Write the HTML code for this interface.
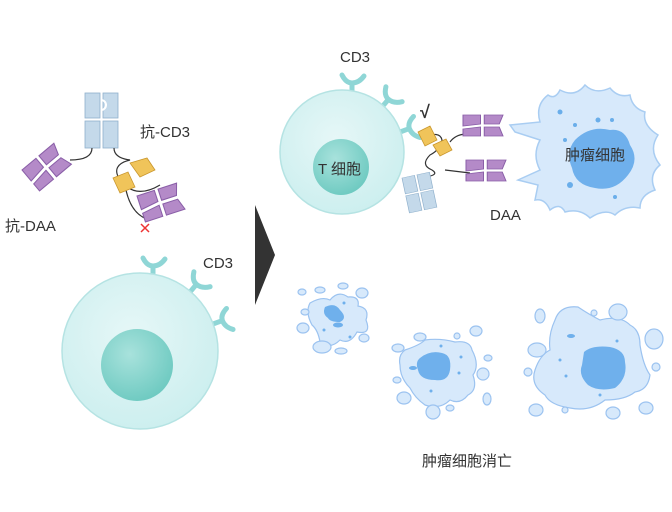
<!DOCTYPE html>
<html><head><meta charset="utf-8"><style>
body{margin:0;background:#fff}
svg{display:block}
text{font-family:"Liberation Sans","Noto Sans CJK SC",sans-serif;fill:#333}
</style></head><body>
<svg width="672" height="512" viewBox="0 0 672 512" xmlns="http://www.w3.org/2000/svg">
<defs>
<radialGradient id="cell" cx="0.45" cy="0.4" r="0.6"><stop offset="0" stop-color="#e6f7f7"/><stop offset="1" stop-color="#cdefef"/></radialGradient>
<radialGradient id="nuc" cx="0.4" cy="0.35" r="0.7"><stop offset="0" stop-color="#a8e2dc"/><stop offset="1" stop-color="#6cc9c0"/></radialGradient>
<g id="rec" stroke="#8fd6d6" stroke-width="5" stroke-linecap="round" fill="none"><path d="M0,4 L0,-10 M0,-10 Q-6,-10 -10,-18 M0,-10 Q7,-10 12,-17"/></g>
<g id="fab" fill="#b48ac8" stroke="#8a5fa8" stroke-width="0.8">
<path d="M0,0 L14,0 L14,9 L0,11Z"/><path d="M17,0 L32,0 L29,9 L17,9Z"/>
<path d="M0,14 L14,12 L14,21 L0,21Z"/><path d="M17,12 L29,12 L32,21 L17,21Z"/></g>
<g id="blk" fill="#c4d9ea" stroke="#8fb0cc" stroke-width="0.8">
<rect x="0" y="0" width="15" height="25"/><rect x="18" y="0" width="15" height="25"/>
<rect x="0" y="28" width="15" height="27"/><rect x="18" y="28" width="15" height="27"/></g>
</defs>

<!-- left antibody -->
<use href="#blk" x="85" y="93"/>
<path d="M101,100 a5,5 0 1 1 0,10" fill="none" stroke="#fff" stroke-width="2"/>
<path d="M92,148 Q92,160 70,160" fill="none" stroke="#333" stroke-width="1.2"/>
<path d="M114,148 Q114,158 130,160 Q110,165 120,180 Q135,200 160,185" fill="none" stroke="#333" stroke-width="1.2"/>
<path d="M125,185 Q130,215 150,220" fill="none" stroke="#333" stroke-width="1.2"/>
<g transform="translate(22,170) rotate(-40)"><use href="#fab" transform="scale(1.3)"/></g>
<path d="M113,178 L128,172 L135,187 L120,193Z" fill="#f0c45a" stroke="#c9962c" stroke-width="0.8"/>
<path d="M130,163 L147,158 L155,170 L140,177Z" fill="#f0c45a" stroke="#c9962c" stroke-width="0.8"/>
<g transform="translate(137,196) rotate(-18)"><use href="#fab" transform="scale(1.3)"/></g>
<path d="M141,224 L149,232 M149,224 L141,232" stroke="#e33" stroke-width="1.5"/>
<text x="140" y="137" font-size="15">抗-CD3</text>
<text x="5" y="231" font-size="15">抗-DAA</text>

<!-- left T cell -->
<use href="#rec" transform="translate(153,276)"/>
<use href="#rec" transform="translate(190,292) rotate(40)"/>
<use href="#rec" transform="translate(213,324) rotate(70)"/>
<circle cx="140" cy="351" r="78" fill="url(#cell)" stroke="#b5e3e3" stroke-width="1.5"/>
<circle cx="137" cy="365" r="36" fill="url(#nuc)"/>
<text x="203" y="268" font-size="15">CD3</text>

<!-- arrow -->
<path d="M255,205 L275,255 L255,305Z" fill="#333"/>

<!-- right T cell -->
<use href="#rec" transform="translate(352,93)"/>
<use href="#rec" transform="translate(382,107) rotate(40)"/>
<use href="#rec" transform="translate(400,132) rotate(70)"/>
<circle cx="342" cy="152" r="62" fill="url(#cell)" stroke="#b5e3e3" stroke-width="1.5"/>
<circle cx="341" cy="167" r="28" fill="url(#nuc)"/>
<text x="318" y="174" font-size="15">T 细胞</text>
<text x="340" y="62" font-size="15">CD3</text>
<text x="420" y="118" font-size="18" font-weight="bold" fill="#222">√</text>

<!-- right antibody -->
<path d="M422,138 Q440,130 442,140 Q440,150 430,155 Q420,165 432,170 Q440,175 425,177" fill="none" stroke="#333" stroke-width="1.2"/>
<path d="M450,142 Q455,135 465,134 M445,170 L470,173" fill="none" stroke="#333" stroke-width="1.2"/>
<path d="M418,132 L430,126 L437,140 L425,146Z" fill="#f0c45a" stroke="#c9962c" stroke-width="0.8"/>
<path d="M433,145 L446,139 L452,150 L440,156Z" fill="#f0c45a" stroke="#c9962c" stroke-width="0.8"/>
<g transform="translate(402,178) rotate(-12)"><use href="#blk" transform="scale(0.85 0.65)"/></g>
<use href="#fab" transform="translate(463,115) scale(1.25 1)"/>
<use href="#fab" transform="translate(466,160) scale(1.25 1)"/>

<!-- main tumor -->
<path d="M510,125 L540,122 Q535,105 548,95 Q555,100 560,90 Q575,98 585,85 Q595,95 610,88 Q618,98 630,95 Q632,108 645,112 Q642,125 658,135 Q648,150 660,165 Q648,175 655,190 Q640,195 640,208 Q625,205 615,215 Q605,208 590,218 Q580,208 565,212 Q560,202 550,210 Q545,198 535,200 L538,185 L518,180 L540,170 Q532,155 540,140 L515,132Z" fill="#d7e9fb" stroke="#a9cdf2" stroke-width="1.5"/>
<path d="M575,140 Q590,125 610,130 Q625,128 630,145 Q640,160 628,175 Q615,192 595,188 Q575,185 572,168 Q565,152 575,140Z" fill="#6fb0ec"/>
<g fill="#6aaeea"><circle cx="560" cy="112" r="2.5"/><circle cx="575" cy="125" r="2"/><circle cx="565" cy="140" r="2"/><circle cx="612" cy="120" r="2"/><circle cx="583" cy="160" r="2"/><circle cx="570" cy="185" r="3"/><circle cx="598" cy="120" r="2.5"/><circle cx="615" cy="197" r="2"/></g>
<text x="565" y="160" font-size="15">肿瘤细胞</text>
<text x="490" y="220" font-size="15">DAA</text>

<!-- fragments -->
<g fill="#d7e9fb" stroke="#9cc3f0" stroke-width="1.2">
<path d="M310,303 Q322,296 330,300 Q338,290 348,297 Q360,296 358,306 Q370,308 366,320 Q372,335 357,332 Q350,345 340,340 Q330,350 320,342 Q318,330 312,325 Q305,312 310,303Z"/>
<ellipse cx="302" cy="292" rx="4" ry="3"/><ellipse cx="320" cy="290" rx="5" ry="3"/><ellipse cx="343" cy="286" rx="5" ry="3"/><ellipse cx="362" cy="293" rx="6" ry="5"/><ellipse cx="305" cy="312" rx="4" ry="3"/><ellipse cx="303" cy="328" rx="6" ry="5"/><ellipse cx="322" cy="347" rx="9" ry="6"/><ellipse cx="341" cy="351" rx="6" ry="3"/><ellipse cx="364" cy="338" rx="5" ry="4"/>
<path d="M405,350 Q420,345 425,340 Q440,338 455,342 Q470,340 472,350 Q480,365 473,375 Q478,390 468,395 Q460,405 450,400 Q440,410 425,405 Q415,398 410,388 Q400,378 400,365 Q398,355 405,350Z"/>
<ellipse cx="398" cy="348" rx="6" ry="4"/><ellipse cx="420" cy="337" rx="6" ry="4"/><ellipse cx="457" cy="336" rx="3" ry="3"/><ellipse cx="476" cy="331" rx="6" ry="5"/><ellipse cx="488" cy="358" rx="4" ry="3"/><ellipse cx="483" cy="374" rx="6" ry="6"/><ellipse cx="487" cy="399" rx="4" ry="6"/><ellipse cx="397" cy="380" rx="4" ry="3"/><ellipse cx="404" cy="398" rx="7" ry="6"/><ellipse cx="433" cy="412" rx="7" ry="7"/><ellipse cx="450" cy="408" rx="4" ry="3"/>
<path d="M555,320 Q560,305 578,307 Q590,315 600,320 Q620,315 630,325 Q640,330 640,345 Q643,365 650,375 Q648,390 635,392 Q625,400 605,400 Q590,412 570,408 Q550,405 545,395 Q530,385 535,370 Q540,355 550,350 Q548,335 555,320Z"/>
<ellipse cx="540" cy="316" rx="5" ry="7"/><ellipse cx="594" cy="313" rx="3" ry="3"/><ellipse cx="618" cy="312" rx="9" ry="8"/><ellipse cx="654" cy="339" rx="9" ry="10"/><ellipse cx="656" cy="367" rx="4" ry="4"/><ellipse cx="537" cy="350" rx="9" ry="7"/><ellipse cx="528" cy="372" rx="4" ry="4"/><ellipse cx="536" cy="410" rx="7" ry="6"/><ellipse cx="565" cy="410" rx="3" ry="3"/><ellipse cx="613" cy="413" rx="7" ry="6"/><ellipse cx="646" cy="408" rx="7" ry="6"/>
</g>
<g fill="#6fb0ec">
<path d="M325,307 Q335,302 340,310 Q348,318 340,322 Q330,322 328,318 Q322,314 325,307Z"/>
<path d="M420,358 Q430,350 442,353 Q452,355 450,370 Q448,382 435,380 Q420,380 418,370 Q415,362 420,358Z"/>
<path d="M584,352 Q592,345 610,347 Q625,350 625,362 Q628,378 615,388 Q598,392 588,385 Q578,375 582,365Z"/>
<ellipse cx="338" cy="325" rx="5" ry="2.5"/><ellipse cx="413" cy="368" rx="4" ry="2"/><ellipse cx="571" cy="336" rx="4" ry="2"/>
<circle cx="344" cy="303" r="1.5"/><circle cx="324" cy="330" r="1.5"/><circle cx="350" cy="337" r="1.5"/><circle cx="441" cy="346" r="1.5"/><circle cx="461" cy="357" r="1.5"/><circle cx="459" cy="373" r="1.5"/><circle cx="431" cy="391" r="1.5"/><circle cx="617" cy="341" r="1.5"/><circle cx="560" cy="360" r="1.5"/><circle cx="566" cy="376" r="1.5"/><circle cx="600" cy="395" r="1.5"/>
</g>
<text x="422" y="466" font-size="15">肿瘤细胞消亡</text>
</svg>
</body></html>
